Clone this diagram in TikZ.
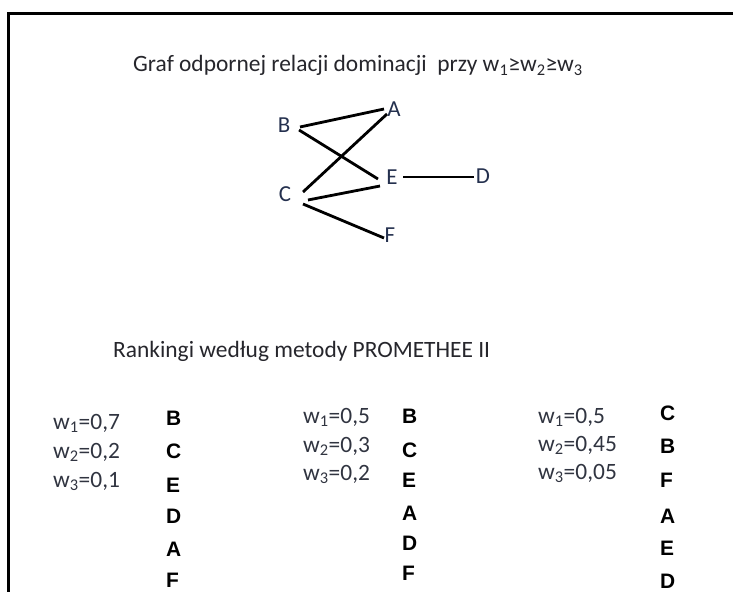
\documentclass[tikz,border=0pt]{standalone}
\usepackage{fontspec}
\setmainfont{Carlito}
\newfontfamily\arialbold{Liberation Sans}[UprightFont=* Bold]
\definecolor{txt}{RGB}{38,38,44}
\definecolor{gtxt}{RGB}{36,48,78}
\definecolor{wtxt}{RGB}{48,52,64}
\tikzset{
  title/.style={anchor=base west, inner sep=0pt, text=txt, font=\fontsize{23.5}{28}\selectfont},
  gnode/.style={inner sep=0pt, text=gtxt, font=\fontsize{23}{28}\selectfont},
  edge/.style={line width=2.8bp, black},
  wlab/.style={anchor=base west, inner sep=0pt, text=wtxt, font=\fontsize{23.5}{28}\selectfont},
  rank/.style={anchor=base west, inner sep=0pt, text=black, font=\arialbold\fontsize{21}{25}\selectfont},
  frame/.style={line width=2.2bp, black}
}
\begin{document}
\begin{tikzpicture}[x=1bp,y=-1bp]
\useasboundingbox (0,0) rectangle (733,592);
\coordinate (fb) at (8.5,592);
\coordinate (fc) at (8.5,13.5);
\coordinate (fr) at (733,13.5);
\draw[frame] (fb) -- (fc) -- (fr);

\node[title] (t1) at (133,72) {Graf odpornej relacji dominacji\ \ przy w\textsubscript{1}≥w\textsubscript{2}≥w\textsubscript{3}};

\node[gnode] (A) at (394,109) {A};
\node[gnode] (B) at (284,125) {B};
\node[gnode] (C) at (285,194) {C};
\node[gnode] (D) at (483,176) {D};
\node[gnode] (E) at (392,177) {E};
\node[gnode] (F) at (390,235) {F};

\draw[edge] ([shift={(16,2)}]B.center) -- ([shift={(-10,0)}]A.center);
\draw[edge] ([shift={(15,5)}]B.center) -- ([shift={(-14,2)}]E.center);
\draw[edge] ([shift={(18,-2)}]C.center) -- ([shift={(-7,5)}]A.center);
\draw[edge] ([shift={(23,6)}]C.center) -- ([shift={(-12,9)}]E.center);
\draw[edge] ([shift={(18,10)}]C.center) -- ([shift={(-6,3)}]F.center);
\draw[edge] ([shift={(11,0)}]E.center) -- ([shift={(-9,1)}]D.center);

\node[title] (t2) at (113,357) {Rankingi według metody PROMETHEE II};

% column 1
\node[wlab] (a1) at (53,429) {w\textsubscript{1}=0,7};
\node[wlab] (a2) at (53,458) {w\textsubscript{2}=0,2};
\node[wlab] (a3) at (53,487) {w\textsubscript{3}=0,1};
\node[rank] (r11) at (166,425) {B};
\node[rank] (r12) at (166,458) {C};
\node[rank] (r13) at (166,492) {E};
\node[rank] (r14) at (166,523) {D};
\node[rank] (r15) at (166,556) {A};
\node[rank] (r16) at (166,587) {F};

% column 2
\node[wlab] (b1) at (303,423) {w\textsubscript{1}=0,5};
\node[wlab] (b2) at (303,452) {w\textsubscript{2}=0,3};
\node[wlab] (b3) at (303,480) {w\textsubscript{3}=0,2};
\node[rank] (r21) at (402,423) {B};
\node[rank] (r22) at (402,457) {C};
\node[rank] (r23) at (402,487) {E};
\node[rank] (r24) at (402,520) {A};
\node[rank] (r25) at (402,550) {D};
\node[rank] (r26) at (402,580) {F};

% column 3
\node[wlab] (c1) at (538,423) {w\textsubscript{1}=0,5};
\node[wlab] (c2) at (538,451) {w\textsubscript{2}=0,45};
\node[wlab] (c3) at (538,479) {w\textsubscript{3}=0,05};
\node[rank] (r31) at (660,420) {C};
\node[rank] (r32) at (660,453) {B};
\node[rank] (r33) at (660,487) {F};
\node[rank] (r34) at (660,523) {A};
\node[rank] (r35) at (660,555) {E};
\node[rank] (r36) at (660,588) {D};
\end{tikzpicture}
\end{document}
